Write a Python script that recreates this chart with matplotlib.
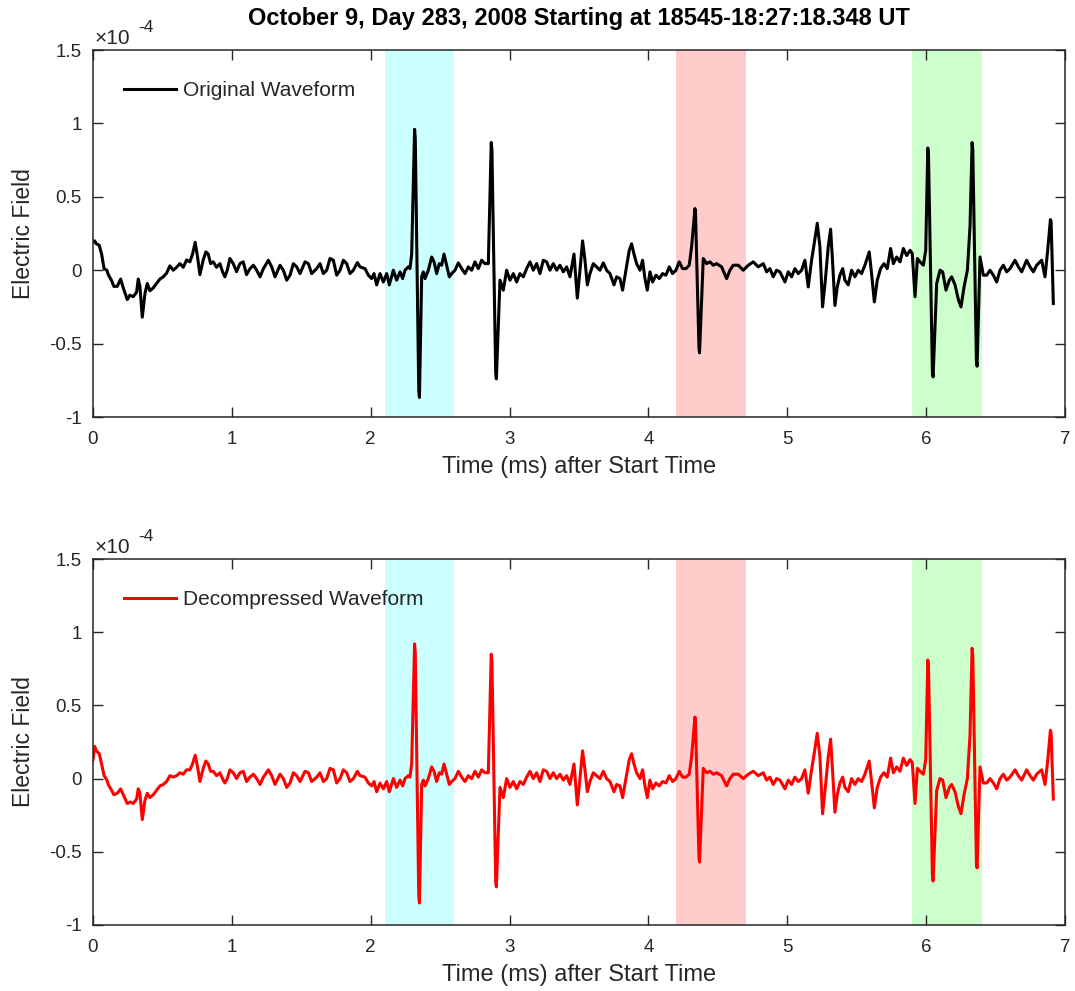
import matplotlib.pyplot as plt
import numpy as np

plt.rcParams['font.family'] = ['Liberation Sans', 'DejaVu Sans']
plt.rcParams['axes.unicode_minus'] = False

title = "October 9, Day 283, 2008 Starting at 18545-18:27:18.348 UT"

# sample times (ms after start)
t_ms = [
    0.0, 0.012, 0.024, 0.045, 0.062, 0.08, 0.1, 0.11, 0.134, 0.15, 0.175, 0.199, 0.218, 0.247,
    0.266, 0.29, 0.314, 0.326, 0.338, 0.355, 0.374, 0.391, 0.41, 0.434, 0.458, 0.482, 0.506,
    0.53, 0.554, 0.578, 0.602, 0.626, 0.65, 0.674, 0.698, 0.717, 0.736, 0.753, 0.77, 0.794,
    0.813, 0.83, 0.847, 0.866, 0.89, 0.914, 0.933, 0.95, 0.967, 0.986, 1.01, 1.034, 1.058,
    1.082, 1.106, 1.13, 1.155, 1.179, 1.203, 1.227, 1.263, 1.287, 1.311, 1.347, 1.371, 1.395,
    1.419, 1.443, 1.467, 1.491, 1.527, 1.551, 1.575, 1.611, 1.635, 1.659, 1.683, 1.707, 1.731,
    1.755, 1.779, 1.803, 1.827, 1.851, 1.875, 1.904, 1.923, 1.959, 1.983, 2.007, 2.024, 2.043,
    2.067, 2.091, 2.115, 2.134, 2.163, 2.187, 2.211, 2.23, 2.247, 2.271, 2.283, 2.295, 2.316, 2.321,
    2.346, 2.351, 2.367, 2.379, 2.391, 2.415, 2.439, 2.456, 2.475, 2.494, 2.511, 2.528, 2.547, 2.566,
    2.583, 2.607, 2.631, 2.655, 2.679, 2.703, 2.727, 2.751, 2.775, 2.799, 2.823, 2.847, 2.868, 2.873,
    2.9, 2.905, 2.931, 2.955, 2.979, 3.003, 3.027, 3.051, 3.075, 3.099, 3.123, 3.147, 3.171, 3.195,
    3.219, 3.243, 3.267, 3.291, 3.315, 3.339, 3.363, 3.387, 3.411, 3.435, 3.464, 3.488, 3.507,
    3.526, 3.543, 3.56, 3.579, 3.603, 3.627, 3.651, 3.675, 3.699, 3.723, 3.752, 3.771, 3.795,
    3.814, 3.838, 3.862, 3.879, 3.896, 3.915, 3.939, 3.958, 3.975, 3.992, 4.011, 4.03, 4.054,
    4.078, 4.102, 4.126, 4.15, 4.174, 4.198, 4.222, 4.246, 4.27, 4.294, 4.311, 4.335, 4.339, 4.364,
    4.368, 4.395, 4.419, 4.443, 4.467, 4.491, 4.527, 4.563, 4.587, 4.611, 4.647, 4.683, 4.719, 4.755,
    4.791, 4.827, 4.851, 4.875, 4.899, 4.923, 4.947, 4.983, 5.007, 5.031, 5.055, 5.079, 5.103,
    5.127, 5.151, 5.175, 5.192, 5.216, 5.235, 5.254, 5.274, 5.295, 5.312, 5.327, 5.343, 5.36,
    5.379, 5.399, 5.415, 5.439, 5.463, 5.487, 5.511, 5.535, 5.559, 5.59, 5.607, 5.627, 5.648,
    5.672, 5.696, 5.72, 5.744, 5.764, 5.788, 5.812, 5.836, 5.86, 5.884, 5.9, 5.92, 5.937,
    5.956, 5.98, 5.997, 6.012, 6.017, 6.045, 6.05, 6.076, 6.1, 6.119, 6.143, 6.167, 6.184, 6.208,
    6.232, 6.251, 6.273, 6.297, 6.316, 6.331, 6.336, 6.362, 6.367, 6.388, 6.412, 6.436, 6.46, 6.484,
    6.508, 6.532, 6.556, 6.58, 6.604, 6.64, 6.664, 6.688, 6.724, 6.748, 6.772, 6.796, 6.832, 6.856,
    6.873, 6.895, 6.9, 6.916,
]

# electric field, units of 1e-4
e_orig = [
    0.19, 0.2, 0.18, 0.17, 0.11, 0.01, 0.0, -0.03, -0.07, -0.11, -0.11, -0.06, -0.12, -0.2,
    -0.17, -0.18, -0.15, -0.06, -0.11, -0.32, -0.16, -0.09, -0.14, -0.12, -0.09, -0.06, -0.045,
    -0.02, 0.03, 0.0, 0.02, 0.045, 0.02, 0.07, 0.057, 0.11, 0.19, 0.09, -0.03, 0.07,
    0.125, 0.11, 0.045, 0.057, 0.02, 0.045, -0.01, -0.045, 0.0, 0.08, 0.045, -0.01, 0.045,
    0.057, -0.03, 0.01, 0.034, 0.0, -0.045, 0.01, 0.068, 0.023, -0.045, 0.034, 0.0, -0.068,
    -0.034, 0.045, 0.023, -0.023, 0.057, 0.045, -0.023, 0.011, 0.045, -0.023, 0.0, 0.08, 0.068,
    -0.034, 0.0, 0.068, 0.045, -0.023, 0.0, 0.052, 0.023, 0.011, -0.034, -0.057, -0.023, -0.1,
    -0.023, -0.08, -0.023, -0.1, 0.0, -0.068, -0.011, -0.057, 0.0, 0.023, 0.011, 0.11, 0.96, 0.9,
    -0.82, -0.867, -0.045, -0.011, -0.057, 0.0, 0.09, 0.057, -0.023, 0.045, 0.034, 0.11, 0.034, -0.045,
    -0.023, 0.0, 0.05, 0.011, -0.023, 0.023, 0.0, 0.057, 0.011, 0.068, 0.045, 0.045, 0.87, 0.82,
    -0.7, -0.74, -0.068, -0.136, 0.0, -0.068, -0.023, -0.08, -0.023, -0.045, 0.011, 0.057, 0.0, 0.045,
    -0.023, 0.068, 0.057, 0.0, 0.045, 0.0, 0.034, -0.011, 0.023, -0.045, 0.11, -0.19, 0.0,
    0.2, 0.068, -0.1, -0.023, 0.045, 0.023, 0.0, 0.05, 0.0, -0.023, -0.1, -0.045, -0.057,
    -0.136, 0.0, 0.136, 0.18, 0.11, 0.045, 0.0, 0.068, -0.057, -0.136, -0.011, -0.08, -0.034,
    -0.057, -0.023, -0.034, 0.023, -0.023, 0.0, 0.057, 0.011, 0.011, 0.034, 0.16, 0.42, 0.39, -0.53,
    -0.563, 0.08, 0.045, 0.057, 0.034, 0.045, 0.023, -0.057, 0.0, 0.034, 0.034, 0.0, 0.034, 0.057,
    0.023, 0.045, -0.011, 0.011, -0.045, 0.0, -0.011, -0.08, -0.011, -0.045, 0.011, -0.023, 0.0,
    0.068, -0.114, 0.068, 0.17, 0.32, 0.16, -0.25, -0.068, 0.16, 0.28, 0.045, -0.24, -0.114,
    -0.034, 0.011, -0.068, -0.1, 0.0, -0.045, 0.0, -0.023, 0.034, 0.125, -0.023, -0.216, -0.068,
    0.011, 0.045, 0.011, 0.148, 0.045, 0.09, 0.057, 0.148, 0.1, 0.136, 0.114, -0.18, 0.08,
    0.057, 0.034, 0.136, 0.833, 0.78, -0.69, -0.727, -0.09, 0.0, -0.011, -0.136, -0.068, -0.045, -0.1,
    -0.2, -0.25, -0.114, 0.0, 0.3, 0.87, 0.82, -0.62, -0.654, 0.09, -0.034, -0.034, 0.0, -0.034,
    -0.08, 0.0, 0.034, -0.011, 0.011, 0.068, 0.023, -0.011, 0.068, 0.023, -0.011, 0.034, 0.068, -0.045,
    0.114, 0.345, 0.33, -0.227,
]

e_decomp = [
    0.13, 0.22, 0.19, 0.17, 0.1, 0.02, -0.01, -0.04, -0.08, -0.11, -0.1, -0.07, -0.11, -0.17,
    -0.16, -0.17, -0.14, -0.07, -0.1, -0.28, -0.15, -0.1, -0.13, -0.11, -0.08, -0.05, -0.04,
    -0.02, 0.02, 0.01, 0.02, 0.04, 0.03, 0.06, 0.06, 0.1, 0.16, 0.08, -0.02, 0.07,
    0.12, 0.1, 0.05, 0.05, 0.02, 0.04, 0.0, -0.03, 0.0, 0.06, 0.04, 0.0, 0.04,
    0.05, -0.02, 0.01, 0.03, 0.0, -0.04, 0.01, 0.06, 0.02, -0.04, 0.03, 0.0, -0.06,
    -0.03, 0.04, 0.02, -0.02, 0.05, 0.04, -0.02, 0.01, 0.04, -0.02, 0.0, 0.07, 0.06,
    -0.03, 0.0, 0.06, 0.04, -0.02, 0.0, 0.05, 0.02, 0.01, -0.03, -0.05, -0.02, -0.09,
    -0.03, -0.07, -0.02, -0.09, 0.0, -0.06, -0.01, -0.05, 0.0, 0.02, 0.01, 0.1, 0.92, 0.86,
    -0.8, -0.85, -0.04, -0.01, -0.05, 0.0, 0.08, 0.05, -0.02, 0.04, 0.03, 0.1, 0.03, -0.04,
    -0.02, 0.0, 0.05, 0.01, -0.02, 0.02, 0.0, 0.05, 0.01, 0.06, 0.04, 0.04, 0.85, 0.8,
    -0.7, -0.74, -0.06, -0.13, 0.0, -0.06, -0.02, -0.07, -0.02, -0.04, 0.01, 0.05, 0.0, 0.04,
    -0.02, 0.06, 0.05, 0.0, 0.04, 0.0, 0.03, -0.01, 0.02, -0.04, 0.1, -0.18, 0.0,
    0.19, 0.06, -0.09, -0.02, 0.04, 0.02, 0.0, 0.05, 0.0, -0.02, -0.09, -0.04, -0.05,
    -0.13, 0.0, 0.13, 0.17, 0.1, 0.04, 0.0, 0.06, -0.05, -0.13, -0.01, -0.07, -0.03,
    -0.05, -0.02, -0.03, 0.02, -0.02, 0.0, 0.05, 0.01, 0.01, 0.03, 0.15, 0.42, 0.38, -0.54,
    -0.57, 0.07, 0.04, 0.05, 0.03, 0.04, 0.02, -0.05, 0.0, 0.03, 0.03, 0.0, 0.03, 0.05,
    0.02, 0.04, -0.01, 0.01, -0.04, 0.0, -0.01, -0.07, -0.01, -0.04, 0.01, -0.02, 0.0,
    0.06, -0.1, 0.06, 0.16, 0.31, 0.15, -0.24, -0.06, 0.15, 0.27, 0.04, -0.23, -0.11,
    -0.03, 0.01, -0.06, -0.09, 0.0, -0.04, 0.0, -0.02, 0.03, 0.12, -0.02, -0.2, -0.06,
    0.01, 0.04, 0.01, 0.14, 0.04, 0.08, 0.05, 0.14, 0.09, 0.13, 0.11, -0.17, 0.07,
    0.05, 0.03, 0.13, 0.81, 0.76, -0.66, -0.7, -0.08, 0.0, -0.01, -0.13, -0.06, -0.04, -0.09,
    -0.19, -0.24, -0.11, 0.0, 0.3, 0.89, 0.84, -0.58, -0.61, 0.08, -0.03, -0.03, 0.0, -0.03,
    -0.07, 0.0, 0.03, -0.01, 0.01, 0.06, 0.02, -0.01, 0.06, 0.02, -0.01, 0.03, 0.06, -0.04,
    0.1, 0.33, 0.31, -0.14,
]

# highlighted windows (ms) and their colours
spans = [(2.1, 2.6), (4.2, 4.7), (5.9, 6.4)]
span_colors = ['#ccffff', '#ffcccc', '#ccffcc']

xticks = [0, 1, 2, 3, 4, 5, 6, 7]
yticks = [-1, -0.5, 0, 0.5, 1, 1.5]
ytick_labels = ['-1', '-0.5', '0', '0.5', '1', '1.5']

axis_col = '#262626'

fig = plt.figure(figsize=(10.75, 9.91), dpi=100)
ax1 = fig.add_axes([0.0865, 0.5792, 0.9042, 0.3703])
ax2 = fig.add_axes([0.0865, 0.0666, 0.9042, 0.3693])


def setup(ax, y, color, name):
    for (a, b), c in zip(spans, span_colors):
        ax.axvspan(a, b, color=c, lw=0, zorder=0)
    ax.plot(t_ms, y, color=color, lw=2.2, label=name, zorder=2)
    ax.set_xlim(0, 7)
    ax.set_ylim(-1, 1.5)
    ax.set_xticks(xticks)
    ax.set_xticklabels([str(x) for x in xticks])
    ax.set_yticks(yticks)
    ax.set_yticklabels(ytick_labels)
    ax.tick_params(direction='in', length=7, width=1, colors=axis_col,
                   labelsize=13.5, top=True, right=True)
    ax.tick_params(axis='x', pad=10)
    ax.tick_params(axis='y', pad=8)
    for s in ax.spines.values():
        s.set_color(axis_col)
        s.set_linewidth(1.1)
        s.set_zorder(3)
    ax.set_xlabel('Time (ms) after Start Time', fontsize=17, color=axis_col, labelpad=6)
    ax.set_ylabel('Electric Field', fontsize=16.5, color=axis_col, labelpad=10)
    # exponent shown MATLAB-style above the y axis
    ax.text(0.002, 1.006, '\u00d710', transform=ax.transAxes,
            fontsize=15, color=axis_col, ha='left', va='bottom')
    ax.annotate('-4', xy=(0.002, 1.006), xycoords='axes fraction',
                xytext=(31, 9), textcoords='offset points',
                fontsize=12.5, color=axis_col, ha='left', va='bottom')
    leg = ax.legend(loc='upper left', frameon=False, fontsize=15, handlelength=2.5,
                    handletextpad=0.3, borderaxespad=1.1)
    for txt in leg.get_texts():
        txt.set_color(axis_col)


setup(ax1, e_orig, 'black', 'Original Waveform')
setup(ax2, e_decomp, 'red', 'Decompressed Waveform')
ax1.set_title(title, fontsize=17, fontweight='bold', pad=18)

fig.savefig('out.png', dpi=100)
